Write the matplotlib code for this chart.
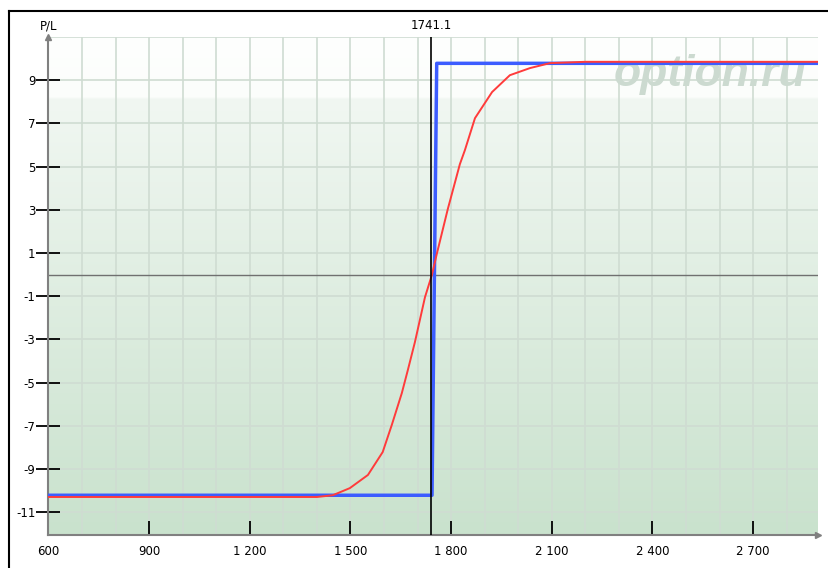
import numpy as np
import matplotlib
matplotlib.use('Agg')
import matplotlib.pyplot as plt
from matplotlib.lines import Line2D
from matplotlib.colors import LinearSegmentedColormap

# payoff at expiration (blue) and current theoretical P/L (red)
blue_x = [600, 1743, 1757, 2894]
blue_y = [-10.22, -10.22, 9.78, 9.78]

red_x = [600, 1400, 1447, 1498, 1552, 1596, 1623, 1653, 1671, 1692, 1722, 1743,
         1757, 1790, 1826, 1841, 1871, 1922, 1975, 2035, 2095, 2200, 2894]
red_y = [-10.3, -10.3, -10.22, -9.89, -9.28, -8.22, -6.97, -5.49, -4.42, -3.13, -1.05, 0.0,
         0.94, 3.03, 5.11, 5.76, 7.24, 8.45, 9.23, 9.56, 9.79, 9.85, 9.85]

spot = 1741.1
x_ticks = [600, 900, 1200, 1500, 1800, 2100, 2400, 2700]
x_labels = ['600', '900', '1 200', '1 500', '1 800', '2 100', '2 400', '2 700']
y_ticks = [-11, -9, -7, -5, -3, -1, 1, 3, 5, 7, 9]

xmin, xmax = 600, 2894
ymin, ymax = -12.06, 11.0

fig = plt.figure(figsize=(8.29, 5.68), dpi=100)
ax = fig.add_axes([0.0585, 0.0581, 0.9285, 0.8768])
ax.set_xlim(xmin, xmax)
ax.set_ylim(ymin, ymax)

# background gradient: white on top, light green at bottom
cmap = LinearSegmentedColormap.from_list(
    'bg', [(0.0, '#c9e2cd'), (0.875, '#f1f7f2'), (0.88, '#fbfdfb'), (1.0, '#fefffe')])
grad = np.linspace(0, 1, 400).reshape(-1, 1)
ax.imshow(grad, extent=[xmin, xmax, ymin, ymax], origin='lower', aspect='auto',
          cmap=cmap, zorder=0)

# grid
for gx in range(700, 2900, 100):
    ax.axvline(gx, color='#cfdcd2', lw=1.2, zorder=1)
for gy in range(-11, 12, 2):
    ax.axhline(gy, color='#cfdcd2', lw=1.2, zorder=1)
ax.axhline(0, color='#707070', lw=1.0, zorder=2)

# watermark
ax.text(0.985, 0.925, 'option.ru', transform=ax.transAxes, ha='right', va='center',
        fontsize=32, fontweight='bold', fontstyle='italic', family='Liberation Sans',
        color='#ccdad0', zorder=2)

ax.plot(red_x, red_y, color='#ff3b3b', lw=1.4, zorder=4)
ax.plot(blue_x, blue_y, color='#3c5cff', lw=2.5, zorder=3)

ax.axvline(spot, color='black', lw=1.2, zorder=5)
ax.text(spot, ymax + 0.25, '1741.1', ha='center', va='bottom', fontsize=8.5)

# axes
for s in ['top', 'right']:
    ax.spines[s].set_visible(False)
for s in ['left', 'bottom']:
    ax.spines[s].set_color('#808080')
    ax.spines[s].set_linewidth(1.5)
ax.plot([xmin], [ymax], marker='^', color='#808080', ms=5, clip_on=False, zorder=6)
ax.plot([xmax], [ymin], marker='>', color='#808080', ms=5, clip_on=False, zorder=6)

ax.set_xticks(x_ticks)
ax.set_xticklabels(x_labels)
ax.set_yticks(y_ticks)
ax.set_yticklabels([str(v) for v in y_ticks])
ax.tick_params(axis='y', direction='inout', length=17, width=1.3, color='black',
               labelsize=8.5, pad=1)
ax.tick_params(axis='x', direction='in', length=10, width=1.3, color='black',
               labelsize=8.5, pad=7)

fig.text(48.5 / 829, 1 - 26 / 568, 'P/L', ha='center', va='center', fontsize=8.5)

# outer frame (top and left only)
fig.add_artist(Line2D([9.5 / 829, 1], [1 - 10.5 / 568, 1 - 10.5 / 568],
                      transform=fig.transFigure, color='black', lw=1.5))
fig.add_artist(Line2D([9.5 / 829, 9.5 / 829], [0, 1 - 10.5 / 568],
                      transform=fig.transFigure, color='black', lw=1.5))

fig.savefig('out.png', dpi=100)
